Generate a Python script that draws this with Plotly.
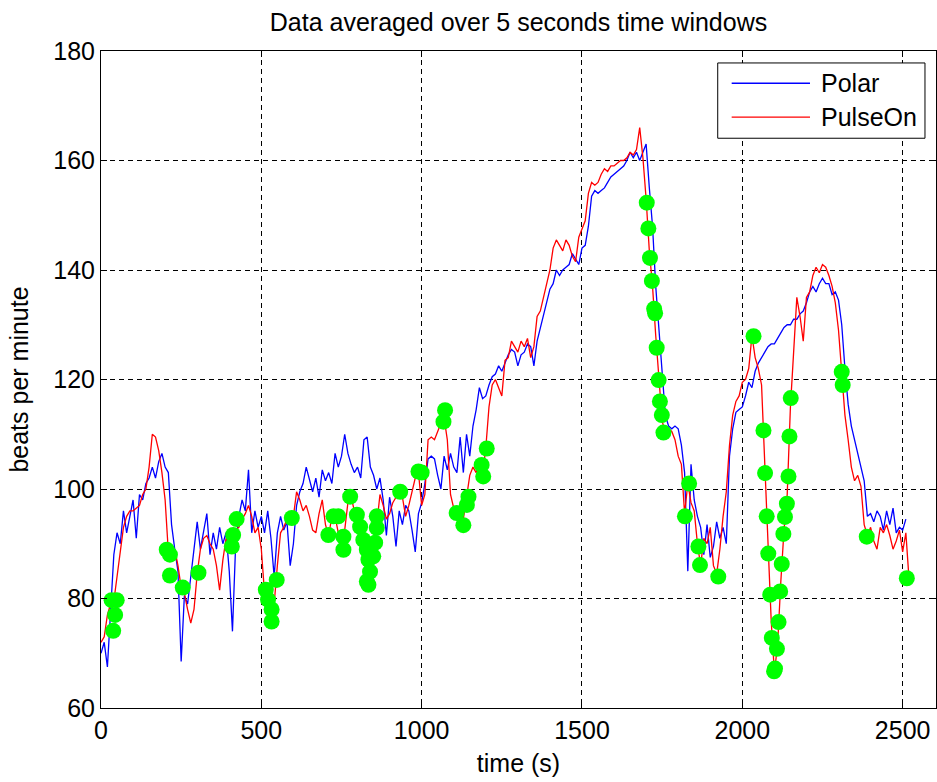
import plotly.graph_objects as go

# ---------------- data ----------------
time_s = list(range(0, 2530, 10))

polar = [
    70, 72, 67.5, 78, 88, 92, 90, 96, 92, 95,
    98, 91, 99, 98, 101, 102, 104, 102, 105, 106.5,
    104, 103, 93.5, 89, 85, 68.5, 80.5, 79, 84, 88,
    94, 89, 92, 95.5, 88, 92, 89, 93, 90, 92,
    85, 74, 90, 95, 98, 96, 103.5, 92, 96, 93,
    95, 92, 96, 91, 84, 92, 95, 92.5, 94, 86,
    90, 97, 99.5, 101, 104, 101.5, 99.5, 102, 98.5, 103.5,
    101.5, 103, 101, 106.5, 104, 106, 110, 106.5, 104.5, 103,
    104, 102, 109, 109.5, 104, 102.5, 100, 102, 98, 91.5,
    98.5, 95, 89.5, 96, 93.5, 97, 96, 92.5, 88.5, 95.5,
    97.5, 101, 105.5, 106, 105.5, 102.5, 100, 106, 103.5, 106.5,
    104, 103, 109.5, 103, 110, 106, 111.5, 114.5, 118.5, 116.5,
    117, 119, 120.5, 121, 122.5, 121.5, 123, 124.5, 125.5, 125,
    122.5, 124.5, 125, 126.5, 126, 122.5, 127, 129.5, 132, 134.5,
    136.5, 137.5, 140, 139, 140, 140.5, 141, 143, 142, 141,
    144, 144.5, 148, 153.5, 154.5, 154, 154.5, 155, 156, 157,
    157.5, 158, 158.5, 159, 160, 161.5, 160.5, 161.5, 160, 161.5,
    163, 155, 148, 137, 129, 120, 113.5, 111.5, 111, 111.5,
    111, 108, 103, 85, 104.5, 98, 95, 93, 88, 93.5,
    87.5, 89.5, 94, 91, 93, 90, 106, 111, 114, 114.5,
    115, 117, 119.5, 118.5, 121.5, 123, 124, 125, 126, 126.5,
    126.5, 127.5, 128.5, 129.5, 130, 130, 131, 131, 132, 132.5,
    134, 136, 137, 136, 137.5, 138.5, 137.5, 137.5, 135.5, 136,
    134.5, 130, 122, 115.5, 111.5, 109, 106.5, 104.5, 101.5, 95,
    95.5, 94, 96, 95, 92.5, 96, 93.5, 96.5, 92, 93,
    92.5, 94.5, None,
]

pulseon = [
    72, 73, 77, 79, 79.5, 84, 88, 93, 95, 96,
    96, 96.5, 97, 99, 100, 104, 110, 109.5, 107, 103,
    98, 88.5, 88, 89, 86, 82, 81, 78, 75.5, 78,
    84.5, 89, 91, 91.5, 90, 89, 86, 81.5, 87, 91,
    90, 90.5, 92.5, 93, 94.5, 95.5, 97, 95, 92, 93,
    89, 81, 79, 76, 79, 86, 92, 93, 94.5, 94.5,
    95, 99.5, 98, 96, 97, 95, 92.5, 92, 95.5, 98,
    93.5, 91.5, 95, 95, 92, 90, 92.5, 97.5, 98.6, 96,
    95, 92.5, 90.5, 88, 84, 88, 94, 99, 97, 94.5,
    95.5, 97.5, 98.5, 99.5, 98.5, 95, 97, 99.5, 102, 103,
    97, 99, 109, 109.5, 109, 110.5, 112, 113, 109, 99,
    96.5, 95.5, 96.5, 94.5, 99, 102.5, 104, 103, 104.5, 102.5,
    107.5, 115, 119, 120, 118.5, 117, 123.5, 124, 127, 126,
    125, 127, 126, 127.5, 124, 126, 131.5, 132.5, 135, 137.5,
    140, 144, 145.5, 144.5, 143.5, 145.5, 144.5, 142.5, 141.5, 146,
    147.5, 149, 154, 156, 155.5, 156, 157.5, 158.5, 158, 159,
    159, 159.5, 160, 160, 160.5, 161.5, 161, 162, 166, 160.5,
    153, 143.5, 137, 128, 120, 112.5, 110, 111, 110.5, 109,
    106, 104.5, 95.5, 101, 97.5, 96, 90, 86, 91, 90,
    93, 86, 84.5, 89, 95, 99.5, 108, 113.5, 116, 117,
    119.5, 120, 122, 128, 124, 122, 119, 104, 89, 76,
    66.5, 71.5, 83, 92.5, 99, 115, 125, 135, 131.5, 127,
    135, 136, 139, 140.5, 139.5, 141, 140.5, 139, 137, 134,
    129, 121, 113.5, 109, 104, 101.5, 102.5, 100.5, 93.5, 91.5,
    93, 90.5, 89, 93, 92, 93.5, 91.5, 89, 90.5, 92.5,
    88.5, 92, 83.5,
]

flag_time = [
    33, 49, 44, 38,
    205, 215, 215, 255, 304,
    408, 412, 423,
    514, 521, 532, 532, 548,
    595,
    709, 725, 740, 756, 756, 777, 798, 808, 818, 829, 834, 839, 829, 834,
    849, 855, 860, 860,
    933, 990, 1000,
    1068, 1073, 1109, 1130, 1141, 1146, 1187, 1192, 1203,
    1702, 1707, 1712, 1718, 1725, 1728, 1733, 1739, 1743, 1749, 1754,
    1821, 1834, 1863, 1868, 1925,
    2035, 2066, 2071, 2076, 2081, 2087, 2092, 2099, 2102, 2108, 2113,
    2118, 2123, 2128, 2133, 2139, 2144, 2147, 2151,
    2310, 2313, 2388, 2513,
]
flag_bpm = [
    79.7, 79.7, 77.0, 74.1,
    88.9, 88.0, 84.2, 82.0, 84.7,
    89.5, 91.6, 94.5,
    81.6, 79.8, 78.0, 75.8, 83.4,
    94.7,
    91.6, 95.0, 95.0, 91.3, 88.9, 98.6, 95.3, 93.1, 90.7, 88.9, 87.1, 84.9, 83.1, 82.5,
    87.7, 90.2, 92.9, 95.0,
    99.5, 103.2, 103.0,
    112.3, 114.4, 95.6, 93.4, 97.1, 98.6, 104.4, 102.3, 107.4,
    152.3, 147.6, 142.2, 138.0, 132.9, 132.1, 125.8, 119.9, 116.0, 113.5, 110.3,
    95.0, 101.0, 89.5, 86.1, 84.0,
    127.9, 110.7, 102.9, 95.0, 88.2, 80.7, 72.8, 66.7, 67.2, 70.8, 75.7,
    81.3, 86.3, 91.8, 94.9, 97.3, 102.3, 109.6, 116.6,
    121.4, 119.0, 91.3, 83.7,
]

x_ticks = [0, 500, 1000, 1500, 2000, 2500]
y_ticks = [60, 80, 100, 120, 140, 160, 180]
legend_names = ["Polar", "PulseOn"]
legend_colors = ["#0000ff", "#ff0000"]

# ---------------- figure ----------------
FONT = "Liberation Sans, Arial, Helvetica, sans-serif"
fig = go.Figure()

fig.add_trace(go.Scatter(x=time_s, y=polar, mode="lines", name=legend_names[0],
                         line=dict(color=legend_colors[0], width=1.3), showlegend=False))
fig.add_trace(go.Scatter(x=time_s, y=pulseon, mode="lines", name=legend_names[1],
                         line=dict(color=legend_colors[1], width=1.3), showlegend=False))
fig.add_trace(go.Scatter(x=flag_time, y=flag_bpm, mode="markers", name="flag",
                         marker=dict(color="#00ff00", size=16, symbol="circle",
                                     line=dict(width=0)), showlegend=False))

# legend drawn as a box (MATLAB style) in paper coordinates
fig.add_shape(type="rect", xref="paper", yref="paper", x0=0.7386, x1=0.9868,
              y0=0.8672, y1=0.9818, line=dict(color="black", width=1),
              fillcolor="white", layer="above")
for i, (nm, col) in enumerate(zip(legend_names, legend_colors)):
    yy = 0.9509 - i * 0.0516
    fig.add_shape(type="line", xref="paper", yref="paper", x0=0.7553, x1=0.8491,
                  y0=yy, y1=yy, line=dict(color=col, width=1.3), layer="above")
    fig.add_annotation(xref="paper", yref="paper", x=0.8599, y=yy, text=nm,
                       showarrow=False, xanchor="left", yanchor="middle",
                       font=dict(family=FONT, size=25, color="black"))

axis_common = dict(
    showline=True, linecolor="black", linewidth=1, mirror="ticks",
    ticks="inside", ticklen=6, tickcolor="black", tickwidth=1,
    showgrid=True, gridcolor="black", gridwidth=1, griddash="5px,4px",
    zeroline=False, automargin=False,
    tickfont=dict(family=FONT, size=25, color="black"),
)

fig.update_layout(
    width=937, height=782,
    margin=dict(l=101, r=1, t=51, b=74),
    paper_bgcolor="white", plot_bgcolor="white",
    font=dict(family=FONT, size=25, color="black"),
    title=dict(text="Data averaged over 5 seconds time windows", x=0.5, xanchor="center",
               y=0.972, yanchor="middle", xref="paper", automargin=False,
               font=dict(family=FONT, size=25, color="black")),
    xaxis=dict(range=[0, 2604], tickvals=x_ticks, ticktext=[str(v) for v in x_ticks],
               title=dict(text="time (s)", standoff=11, font=dict(family=FONT, size=25)),
               **axis_common),
    yaxis=dict(range=[60, 180], tickvals=y_ticks, ticktext=[str(v) for v in y_ticks],
               title=dict(text="beats per minute", standoff=17, font=dict(family=FONT, size=25)),
               **axis_common),
)

fig.write_html("out.html", config={"displayModeBar": False},
               post_script="document.body.style.margin='0';")
